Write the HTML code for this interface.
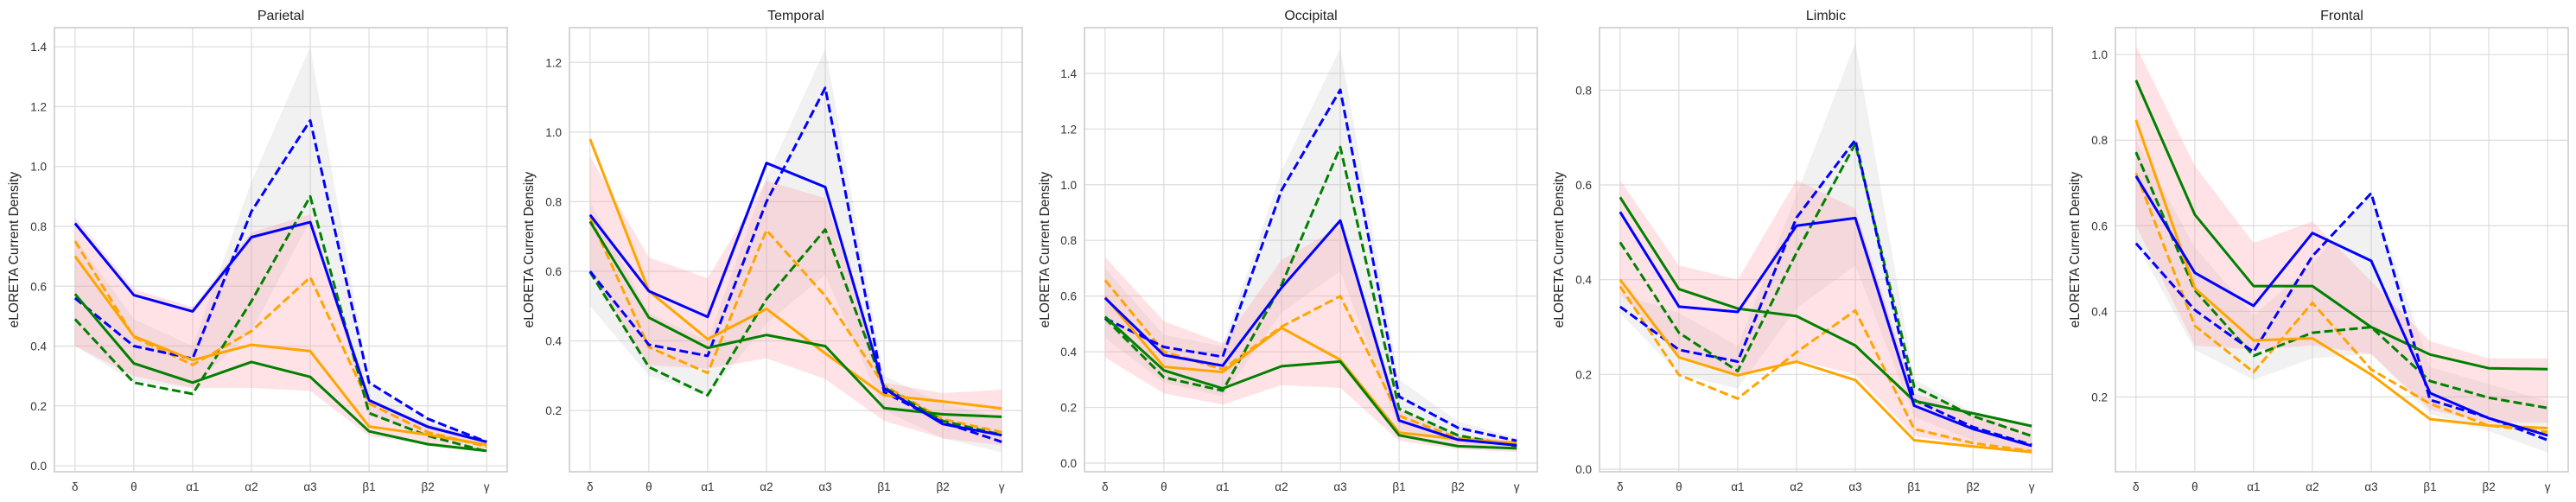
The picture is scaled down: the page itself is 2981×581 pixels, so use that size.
<!DOCTYPE html>
<html><head><meta charset="utf-8"><style>
body{margin:0;background:#fff;}
svg{display:block;font-family:"Liberation Sans","DejaVu Sans",sans-serif;}
</style></head><body>
<svg id="chart" width="2981" height="581" viewBox="0 0 2981 581" xmlns="http://www.w3.org/2000/svg"></svg>
<script>
const bands = ["δ","θ","α1","α2","α3","β1","β2","γ"];
const panelTitles = ["Parietal","Temporal","Occipital","Limbic","Frontal"];
const yTicks = [[0,0.2,0.4,0.6,0.8,1.0,1.2,1.4],[0.2,0.4,0.6,0.8,1.0,1.2],[0,0.2,0.4,0.6,0.8,1.0,1.2,1.4],[0,0.2,0.4,0.6,0.8],[0.2,0.4,0.6,0.8,1.0]];
const yLims = [[-0.02,1.464],[0.024,1.30],[-0.031,1.564],[-0.0055,0.932],[0.025,1.063]];
const panelLefts = [63,659,1255,1851,2448];
const yLabelX = [16,612,1209,1804,2401];

const blueSolid = [[0.81,0.57,0.516,0.764,0.814,0.219,0.13,0.08],[0.762,0.543,0.469,0.911,0.842,0.263,0.161,0.129],[0.593,0.388,0.35,0.63,0.871,0.153,0.084,0.064],[0.543,0.343,0.332,0.514,0.53,0.134,0.085,0.049],[0.716,0.49,0.413,0.583,0.518,0.209,0.15,0.11]];
const blueDashed = [[0.56,0.40,0.358,0.85,1.154,0.278,0.157,0.08],[0.60,0.389,0.357,0.80,1.127,0.253,0.166,0.11],[0.52,0.417,0.382,0.98,1.341,0.239,0.127,0.08],[0.343,0.252,0.227,0.531,0.695,0.146,0.089,0.051],[0.559,0.403,0.305,0.529,0.676,0.193,0.151,0.099]];
const greenSolid = [[0.574,0.342,0.278,0.347,0.297,0.115,0.072,0.05],[0.743,0.467,0.38,0.417,0.385,0.207,0.189,0.182],[0.526,0.333,0.268,0.348,0.365,0.10,0.061,0.053],[0.574,0.38,0.339,0.323,0.261,0.144,0.118,0.091],[0.94,0.626,0.459,0.459,0.363,0.299,0.267,0.265]];
const greenDashed = [[0.49,0.278,0.24,0.55,0.90,0.176,0.10,0.048],[0.598,0.325,0.244,0.52,0.72,0.267,0.17,0.13],[0.52,0.308,0.26,0.64,1.135,0.195,0.10,0.061],[0.479,0.288,0.207,0.457,0.687,0.174,0.112,0.07],[0.772,0.449,0.296,0.35,0.363,0.237,0.198,0.174]];
const orangeSolid = [[0.70,0.433,0.353,0.404,0.383,0.131,0.104,0.07],[0.98,0.543,0.405,0.492,0.364,0.244,0.226,0.206],[0.597,0.346,0.327,0.486,0.371,0.11,0.086,0.072],[0.40,0.236,0.198,0.227,0.188,0.061,0.048,0.036],[0.847,0.454,0.332,0.337,0.252,0.148,0.133,0.127]];
const orangeDashed = [[0.751,0.43,0.337,0.45,0.63,0.208,0.112,0.064],[0.755,0.382,0.308,0.718,0.529,0.272,0.175,0.138],[0.657,0.40,0.337,0.49,0.60,0.17,0.09,0.067],[0.386,0.199,0.149,0.247,0.335,0.085,0.055,0.038],[0.723,0.366,0.258,0.42,0.264,0.184,0.133,0.118]];
const greyHi = [[0.76,0.49,0.40,0.95,1.40,0.28,0.16,0.085],[0.80,0.48,0.40,0.87,1.24,0.30,0.22,0.18],[0.70,0.46,0.42,1.05,1.49,0.30,0.15,0.09],[0.37,0.33,0.26,0.58,0.90,0.19,0.12,0.07],[0.80,0.55,0.39,0.51,0.68,0.27,0.23,0.19]];
const greyLo = [[0.40,0.28,0.26,0.45,0.82,0.17,0.10,0.06],[0.50,0.30,0.24,0.45,0.59,0.20,0.12,0.08],[0.45,0.29,0.24,0.54,0.69,0.12,0.07,0.05],[0.33,0.20,0.17,0.34,0.43,0.11,0.06,0.035],[0.56,0.31,0.24,0.29,0.30,0.16,0.12,0.07]];
const pinkHi = [[0.83,0.59,0.53,0.78,0.84,0.22,0.14,0.085],[0.93,0.64,0.58,0.86,0.81,0.28,0.25,0.26],[0.74,0.51,0.43,0.73,0.85,0.19,0.10,0.08],[0.61,0.43,0.40,0.61,0.55,0.16,0.12,0.09],[1.02,0.74,0.56,0.61,0.47,0.33,0.29,0.29]];
const pinkLo = [[0.40,0.30,0.26,0.26,0.25,0.10,0.07,0.045],[0.60,0.33,0.32,0.35,0.29,0.17,0.12,0.10],[0.38,0.25,0.21,0.28,0.27,0.08,0.05,0.04],[0.37,0.24,0.20,0.23,0.20,0.07,0.05,0.035],[0.60,0.32,0.31,0.32,0.30,0.17,0.14,0.14]];

const NS = "http://www.w3.org/2000/svg";
const svg = document.getElementById("chart");
const W = 524, TOP = 32, BOT = 546;
function mk(tag, attrs, parent){const e=document.createElementNS(NS,tag);for(const k in attrs)e.setAttribute(k,attrs[k]);parent.appendChild(e);return e;}

panelTitles.forEach((title,p)=>{
  const L = panelLefts[p];
  const g = mk("g",{},svg);
  
  
  const xs = i => L + W*(i+0.35)/7.7;
  const [y0,y1] = yLims[p];
  const ys = v => BOT - (v-y0)/(y1-y0)*(BOT-TOP);
  // grid
  yTicks[p].forEach(t=>{
    const l = mk("line",{x1:L,x2:L+W,y1:ys(t),y2:ys(t),stroke:"#dcdcdc","stroke-width":1.2},g);
    
    
    const tx = mk("text",{x:L-9,y:ys(t)+5,"text-anchor":"end","font-size":13.5,fill:"#333"},g);
    
    
    tx.textContent = t.toFixed(1);
  });
  bands.forEach((b,i)=>{
    const l = mk("line",{x1:xs(i),x2:xs(i),y1:TOP,y2:BOT,stroke:"#dcdcdc","stroke-width":1.2},g);
    
    
    const tx = mk("text",{x:xs(i),y:568,"text-anchor":"middle","font-size":13.5,fill:"#333"},g);
    
    
    tx.textContent = b;
  });
  // bands
  function area(hi,lo,fill,name){
    let d = hi.map((v,i)=>(i?"L":"M")+xs(i).toFixed(1)+","+ys(v).toFixed(1)).join("");
    for(let i=lo.length-1;i>=0;i--) d += "L"+xs(i).toFixed(1)+","+ys(lo[i]).toFixed(1);
    const a = mk("path",{d:d+"Z",fill:fill,stroke:"none"},g);
    
    
  }
  area(greyHi[p],greyLo[p],"rgba(190,190,190,0.22)","grey-band");
  area(pinkHi[p],pinkLo[p],"rgba(255,160,170,0.30)","pink-band");
  // series
  const series = [
    [orangeDashed,"#ffa500",true,"orange-dashed-line"],
    [greenDashed,"#008000",true,"green-dashed-line"],
    [blueDashed,"#0000ff",true,"blue-dashed-line"],
    [orangeSolid,"#ffa500",false,"orange-solid-line"],
    [greenSolid,"#008000",false,"green-solid-line"],
    [blueSolid,"#0000ff",false,"blue-solid-line"]
  ];
  series.forEach(([arr,col,dash,name])=>{
    const pts = arr[p].map((v,i)=>xs(i).toFixed(1)+","+ys(v).toFixed(1)).join(" ");
    const pl = mk("polyline",{points:pts,fill:"none",stroke:col,"stroke-width":3,"stroke-linejoin":"round","stroke-dasharray":dash?"10,4.5":"none"},g);
    
    
  });
  // frame
  const fr = mk("rect",{x:L,y:TOP,width:W,height:BOT-TOP,fill:"none",stroke:"#cccccc","stroke-width":1.6},g);
  
  
  const tt = mk("text",{x:L+W/2,y:23,"text-anchor":"middle","font-size":16,fill:"#222"},g);
  
  
  tt.textContent = title;
  const yl = mk("text",{x:0,y:0,"text-anchor":"middle","font-size":15.5,fill:"#222",transform:"translate("+(yLabelX[p]+5)+",289) rotate(-90)"},g);
  
  
  yl.textContent = "eLORETA Current Density";
});
</script>
</body></html>
